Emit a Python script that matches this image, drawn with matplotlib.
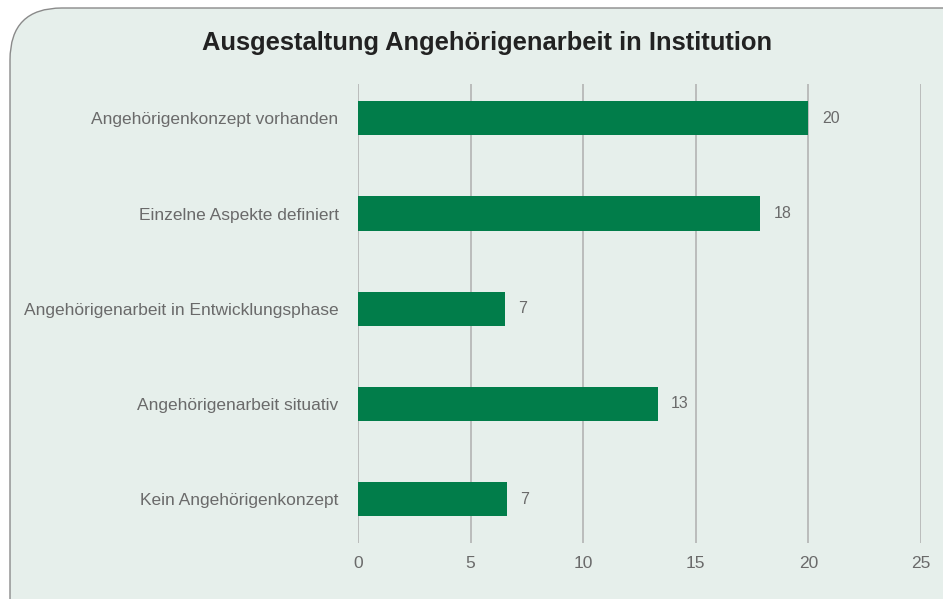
import matplotlib
matplotlib.use('Agg')
import matplotlib.pyplot as plt
from matplotlib.patches import FancyBboxPatch

plt.rcParams['font.family'] = ['Liberation Sans', 'DejaVu Sans']

categories = ['Angehörigenkonzept vorhanden', 'Einzelne Aspekte definiert',
              'Angehörigenarbeit in Entwicklungsphase', 'Angehörigenarbeit situativ',
              'Kein Angehörigenkonzept']
values = [20, 17.85, 6.52, 13.3, 6.6]
xticks = [0, 5, 10, 15, 20, 25]
title = 'Ausgestaltung Angehörigenarbeit in Institution'

bg = '#e6efeb'
green = '#017d4a'
grey = '#6a6a6a'

fig = plt.figure(figsize=(9.43, 5.99), dpi=100)
fig.patch.set_facecolor('white')

# rounded panel behind the chart
W, H = 943, 599
panel = FancyBboxPatch((10 / W, -0.2), 1.2, (599 - 8) / H + 0.2,
                       boxstyle='round,pad=0,rounding_size=0.055',
                       transform=fig.transFigure, facecolor=bg,
                       edgecolor='#8a8a8a', linewidth=1.0, mutation_aspect=W / H,
                       zorder=-10)
fig.patches.append(panel)

ax = fig.add_axes([358 / W, 1 - 543 / H, (921 - 358) / W, (543 - 84) / H])
ax.set_facecolor('none')
ax.set_zorder(5)

pos = list(range(len(categories)))
bars = ax.barh(pos, values, height=0.36, color=green, zorder=3)
for p, v in zip(pos, values):
    ax.text(v + 0.6, p, f'{round(v)}', va='center', ha='left', fontsize=11.5, color=grey)

ax.set_xlim(0, 25)
ax.set_ylim(4.46, -0.36)
ax.set_xticks(xticks)
ax.set_yticks(pos)
ax.set_yticklabels(categories, fontsize=12.55, color=grey)
ax.tick_params(axis='x', labelsize=12.5, labelcolor=grey, length=0, pad=9)
ax.tick_params(axis='y', length=0, pad=14)
ax.grid(axis='x', color='#b3b3b3', linewidth=1.2, zorder=0)
for s in ax.spines.values():
    s.set_visible(False)

fig.text(487 / W, 1 - 43 / H, title, ha='center', va='center', fontsize=18.4,
         fontweight='bold', color='#222222', zorder=6)

fig.savefig('out.png', dpi=100, facecolor=fig.get_facecolor())
